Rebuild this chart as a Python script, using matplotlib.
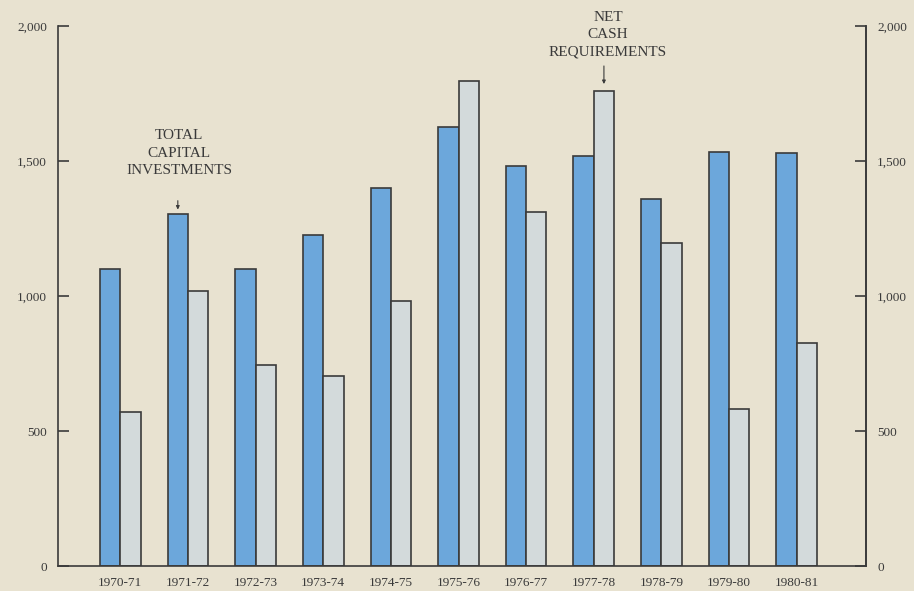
import matplotlib.pyplot as plt
import numpy as np

# 数据：年度、总资本投资、净现金需求
years = ['1970-71', '1971-72', '1972-73', '1973-74', '1974-75', '1975-76',
         '1976-77', '1977-78', '1978-79', '1979-80', '1980-81']
capital = [1100, 1305, 1100, 1225, 1400, 1625, 1480, 1520, 1360, 1535, 1530]
net_cash = [570, 1020, 745, 705, 980, 1795, 1310, 1760, 1195, 580, 825]
y_ticks = [0, 500, 1000, 1500, 2000]
y_labels = ['0', '500', '1,000', '1,500', '2,000']

bg = '#e8e2d0'
blue = '#6ca7db'
pale = '#d3dadb'
edge = '#3a3a3a'
txt = '#3a3a3a'

plt.rcParams['font.family'] = ['Liberation Serif', 'DejaVu Serif']

fig = plt.figure(figsize=(9.14, 5.91), dpi=100)
fig.patch.set_facecolor(bg)
ax = fig.add_axes([0.0635, 0.0423, 0.884, 0.9137])
ax.set_facecolor(bg)

x = np.arange(len(years))
w = 0.30
ax.bar(x - w / 2, capital, w, color=blue, edgecolor=edge, linewidth=1.2)
ax.bar(x + w / 2, net_cash, w, color=pale, edgecolor=edge, linewidth=1.2)

ax.set_xlim(-0.921, 11.025)
ax.set_ylim(0, 2000)
ax.set_xticks(x)
ax.set_xticklabels(years, fontsize=9.5, color=txt)
ax.tick_params(axis='x', length=0, pad=8)
ax.set_yticks(y_ticks)
ax.set_yticklabels(y_labels, fontsize=9.5, color=txt)
ax.tick_params(axis='y', direction='in', length=8, width=1.2, color=edge, pad=8)
ax.spines['top'].set_visible(False)
for s in ['left', 'bottom', 'right']:
    ax.spines[s].set_color(edge)
    ax.spines[s].set_linewidth(1.2)

# 右侧坐标轴
ax2 = ax.twinx()
ax2.set_ylim(0, 2000)
ax2.set_yticks(y_ticks)
ax2.set_yticklabels(y_labels, fontsize=9.5, color=txt)
ax2.tick_params(axis='y', direction='in', length=8, width=1.2, color=edge, pad=8)
ax2.spines['top'].set_visible(False)
ax2.spines['left'].set_visible(False)
ax2.spines['bottom'].set_visible(False)
ax2.spines['right'].set_color(edge)
ax2.spines['right'].set_linewidth(1.2)

# 注释文字和小箭头
arrow = dict(arrowstyle='-|>', color=edge, lw=0.8, shrinkA=0, shrinkB=0,
             mutation_scale=5)
ax.text(x[1] - w / 2 + 0.02, capital[1] + 135, 'TOTAL\nCAPITAL\nINVESTMENTS',
        ha='center', va='bottom', fontsize=11, color=txt, linespacing=1.45)
ax.annotate('', xy=(x[1] - w / 2, capital[1] + 15),
            xytext=(x[1] - w / 2, capital[1] + 48), arrowprops=arrow)
ax.text(x[7] + w / 2 + 0.06, net_cash[7] + 118, 'NET\nCASH\nREQUIREMENTS',
        ha='center', va='bottom', fontsize=11, color=txt, linespacing=1.45)
ax.annotate('', xy=(x[7] + w / 2, net_cash[7] + 25),
            xytext=(x[7] + w / 2, net_cash[7] + 92), arrowprops=arrow)

fig.savefig('out.png', dpi=100, facecolor=bg)
